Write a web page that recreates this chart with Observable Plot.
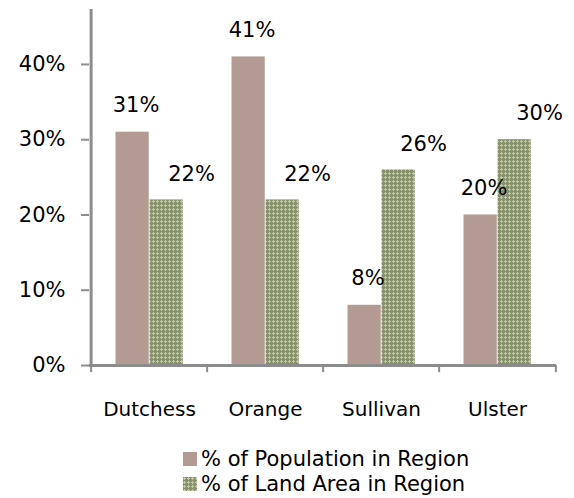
<!DOCTYPE html>
<html>
<head>
<meta charset="utf-8">
<script src="https://cdn.jsdelivr.net/npm/d3@7"></script>
<script src="https://cdn.jsdelivr.net/npm/@observablehq/plot@0.6"></script>
<style>
  html, body { margin: 0; padding: 0; background: #fff; }
  body { width: 574px; height: 498px; overflow: hidden; font-family: "DejaVu Sans", sans-serif; }
  #legend { position: relative; margin-left: 183px; margin-top: 16px; font-size: 21px; color: #000; }
  .item { display: flex; align-items: center; height: 25px; }
  .item svg { margin-right: 4px; }
</style>
</head>
<body>
<svg width="0" height="0" style="position:absolute">
  <defs>
    <pattern id="olive" width="4" height="4" patternUnits="userSpaceOnUse">
      <rect width="4" height="4" fill="#87916c"></rect>
      <rect x="1" y="0" width="1" height="3" fill="#c3c8a6"></rect>
      <rect x="0" y="1" width="3" height="1" fill="#c3c8a6"></rect>
    </pattern>
  </defs>
</svg>
<div id="chart"></div>
<div id="legend"></div>
<script>
const counties = ["Dutchess", "Orange", "Sullivan", "Ulster"];
const population = [0.31, 0.41, 0.08, 0.20];
const landArea = [0.22, 0.22, 0.26, 0.30];
const yTicks = [0, 0.1, 0.2, 0.3, 0.4];
const seriesNames = ["% of Population in Region", "% of Land Area in Region"];
const popColor = "#b39b94";
const landFill = "url(#olive)";

const popRows = counties.map((c, i) => ({county: c, value: population[i]}));
const landRows = counties.map((c, i) => ({county: c, value: landArea[i]}));

const W = 574, H = 430, mL = 89, mR = 18;
const bw = (W - mL - mR) / counties.length;
const fmt = d3.format(".0%");
const axisColor = "#8c8c8c";

const chart = Plot.plot({
  width: W,
  height: H,
  marginLeft: mL,
  marginRight: mR,
  marginTop: 9,
  marginBottom: H - 365,
  style: {fontFamily: "DejaVu Sans, sans-serif", fontSize: "20px", color: "#000", background: "#fff"},
  x: {type: "band", domain: counties, padding: 0, axis: null, label: null},
  y: {domain: [0, 0.473], axis: null, label: null},
  marks: [
    Plot.barY(popRows, {x: "county", y: "value", fill: popColor, insetLeft: 24.5, insetRight: bw - 24.5 - 34}),
    Plot.barY(landRows, {x: "county", y: "value", fill: landFill, insetLeft: 58.5, insetRight: bw - 58.5 - 34}),
    Plot.text(popRows, {x: "county", y: "value", text: d => fmt(d.value), dx: -13.5, dy: -27, fontSize: 21, fill: "#000"}),
    Plot.text(landRows, {x: "county", y: "value", text: d => fmt(d.value), dx: 42, dy: -26, fontSize: 21, fill: "#000"}),
    Plot.ruleY([0], {stroke: axisColor, strokeWidth: 3}),
    Plot.ruleX([counties[0]], {x: d => d, dx: -bw / 2, y1: 0, y2: 0.473, stroke: axisColor, strokeWidth: 3}),
    Plot.ruleX(counties, {x: d => d, dx: -bw / 2, y1: 0, y2: -0.0095, stroke: axisColor, strokeWidth: 2}),
    Plot.ruleX([counties[counties.length - 1]], {x: d => d, dx: bw / 2, y1: 0, y2: -0.0095, stroke: axisColor, strokeWidth: 2}),
    Plot.axisY({ticks: yTicks, tickFormat: fmt, tickSize: 8, tickPadding: 16, fontSize: 21, stroke: axisColor, strokeWidth: 2, fill: "#000", label: null}),
    Plot.axisX({tickSize: 0, tickPadding: 36, fontSize: 20, fill: "#000", label: null})
  ]
});
document.getElementById("chart").appendChild(chart);

const legend = d3.select("#legend");
const fills = [popColor, landFill];
seriesNames.forEach((name, i) => {
  const item = legend.append("div").attr("class", "item");
  item.append("svg").attr("width", 14).attr("height", 14)
    .append("rect").attr("width", 14).attr("height", 14).attr("fill", fills[i]);
  item.append("span").text(name);
});
</script>
</body>
</html>
